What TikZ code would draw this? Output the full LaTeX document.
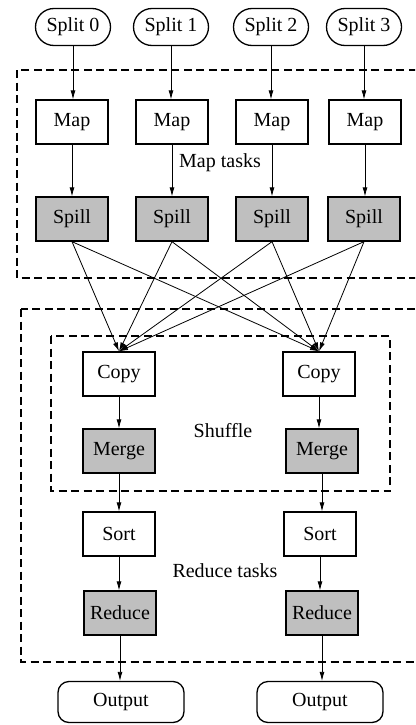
\documentclass[tikz,border=0pt]{standalone}
\usepackage{fontspec}
\setmainfont{Liberation Serif}
\usetikzlibrary{shapes.misc,arrows.meta}
\begin{document}
\begin{tikzpicture}[x=1pt,y=-1pt,
  every node/.style={font=\fontsize{20}{22}\selectfont},
  split/.style={draw,line width=1.3pt,rounded rectangle,minimum width=75pt,minimum height=37pt,inner sep=0pt},
  task/.style={draw,line width=1.3pt,rectangle,minimum width=72pt,minimum height=44pt,inner sep=0pt},
  gtask/.style={task,fill=black!25},
  outbox/.style={draw,line width=1.3pt,rounded corners=11pt,minimum width=126pt,minimum height=41pt,inner sep=0pt},
  region/.style={draw,line width=1.3pt,dash pattern=on 8pt off 4.5pt},
  flow/.style={draw,line width=0.8pt,-{Latex[length=9pt,width=5pt]}},
  lbl/.style={inner sep=0pt}]
\clip (0,0) rectangle (415,725);
% dashed regions
\draw[region] (17,70) rectangle (440,278);
\draw[region] (21,309) rectangle (440,662);
\draw[region] (51,336) rectangle (390,491);
% splits
\node[split] (s0) at (73,27) {Split 0};
\node[split] (s1) at (171,27) {Split 1};
\node[split] (s2) at (271,27) {Split 2};
\node[split] (s3) at (364,27) {Split 3};
% maps
\node[task] (m0) at (72,122) {Map};
\node[task] (m1) at (172,122) {Map};
\node[task] (m2) at (272,122) {Map};
\node[task] (m3) at (365,122) {Map};
% spills
\node[gtask] (p0) at (72,219) {Spill};
\node[gtask] (p1) at (172,219) {Spill};
\node[gtask] (p2) at (272,219) {Spill};
\node[gtask] (p3) at (364,219) {Spill};
% reduce side
\node[task] (cl) at (119,374) {Copy};
\node[task] (cr) at (319,374) {Copy};
\node[gtask] (gl) at (119,451) {Merge};
\node[gtask] (gr) at (322,451) {Merge};
\node[task] (tl) at (119,534) {Sort};
\node[task] (tr) at (320,534) {Sort};
\node[gtask] (rl) at (120,613) {Reduce};
\node[gtask] (rr) at (322,613) {Reduce};
\node[outbox] (ol) at (121,702) {Output};
\node[outbox] (or) at (320,702) {Output};
% labels
\node[lbl] (lmap) at (220,163) {Map tasks};
\node[lbl] (lshuf) at (223,431) {Shuffle};
\node[lbl] (lred) at (225,571) {Reduce tasks};
% arrows
\foreach \a/\b in {s0/m0,s1/m1,s2/m2,s3/m3,m0/p0,m1/p1,m2/p2,m3/p3,cl/gl,cr/gr,gl/tl,gr/tr,tl/rl,tr/rr,rl/ol,rr/or}
  \draw[flow] (\a.south) -- (\a.south |- \b.north);
\foreach \a in {p0,p1,p2,p3}{
  \draw[flow] (\a.south) -- (cl.north);
  \draw[flow] (\a.south) -- (cr.north);
}
\end{tikzpicture}
\end{document}
